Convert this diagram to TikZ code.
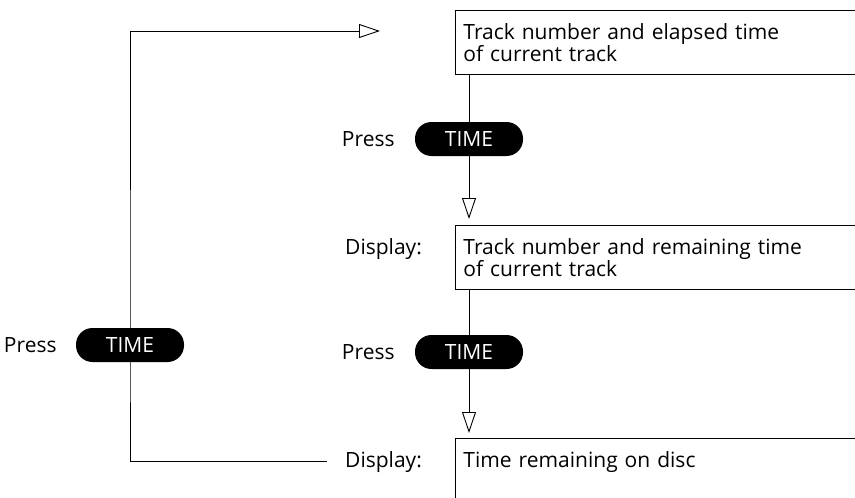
\documentclass[tikz,border=0pt]{standalone}
\usepackage{fontspec}
\setmainfont{Open Sans}
\usetikzlibrary{arrows.meta, positioning, calc, backgrounds}

\tikzset{
  txt/.style={font=\fontsize{21}{21}\selectfont},
  dispbox/.style={txt, draw, line width=0.9pt, anchor=north west, align=left,
    text width=420pt, inner xsep=8pt, inner ysep=13pt},
  timebtn/.style={txt, fill=black, text=white, rounded corners=16.5pt,
    minimum width=108pt, minimum height=34pt, inner sep=0pt},
  lbl/.style={txt, inner sep=0pt},
  flow/.style={line width=1pt},
  openhead/.style={-{Triangle[open, length=21pt, width=14pt, line width=0.9pt]}}
}

\begin{document}
\begin{tikzpicture}[x=1pt, y=-1pt]
        \path[use as bounding box, clip] (0,0) rectangle (855,498);
        % display boxes
        \node[dispbox] (box1) at (455,10) {Track number and elapsed time\\of current track};
        \node[dispbox] (box2) at (455,225) {Track number and remaining time\\of current track};
        \node[dispbox, text depth=80pt] (box3) at (455,438) {Time remaining on disc};
        \node[lbl, anchor=north west] (disp2) at ([shift={(-110pt,-13pt)}]box2.north west) {Display:};
        \node[lbl, anchor=north west] (disp3) at ([shift={(-110pt,-13pt)}]box3.north west) {Display:};
        % TIME buttons
        \node[timebtn] (pill1) at (469,139) {TIME};
        \node[timebtn] (pill2) at (469,352) {TIME};
        \node[timebtn] (pill3) at (130,345) {TIME};
        \node[lbl, left=20pt of pill1] (press1) {Press};
        \node[lbl, left=20pt of pill2] (press2) {Press};
        \node[lbl, left=19pt of pill3] (press3) {Press};
        \coordinate (loopend) at (380,31);
        % connectors
        \begin{scope}[on background layer]
        \draw[flow] (box1.south -| pill1) -- (pill1);
        \draw[flow, openhead, shorten >=6pt] (pill1) -- (box2.north -| pill1);
        \draw[flow] (box2.south -| pill2) -- (pill2);
        \draw[flow, openhead, shorten >=5pt] (pill2) -- (box3.north -| pill2);
        \draw[flow, openhead] ([xshift=-18pt]disp3.west) -| (pill3.center) |- (loopend);
        \end{scope}
    \end{tikzpicture}
\end{document}
